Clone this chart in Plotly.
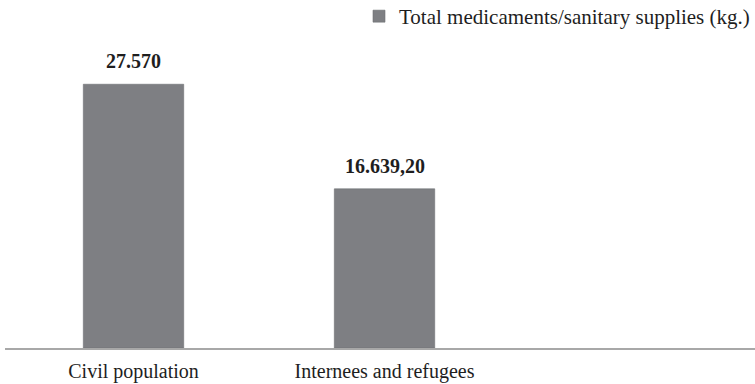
import plotly.graph_objects as go

# Data
categories = ["Civil population", "Internees and refugees"]
supplies_kg = [27570, 16639.2]
series_name = "Total medicaments/sanitary supplies (kg.)"

BAR_COLOR = "#7e7f83"
TEXT_COLOR = "#1e1e1e"
FONT = "Liberation Serif"


def fmt_eu(v):
    """European number format: '.' thousands separator, ',' decimals."""
    if float(v).is_integer():
        s = f"{int(v):,}"
        return s.replace(",", ".")
    s = f"{v:,.2f}"
    return s.replace(",", "X").replace(".", ",").replace("X", ".")


fig = go.Figure()
fig.add_trace(go.Bar(
    x=categories,
    y=supplies_kg,
    name=series_name,
    marker=dict(color=BAR_COLOR, line=dict(color="#6f7074", width=0.6)),
    showlegend=True,
))

# value labels above the bars
for cat, val in zip(categories, supplies_kg):
    fig.add_annotation(
        x=cat, y=val, text=fmt_eu(val),
        showarrow=False, yanchor="bottom", yshift=10,
        font=dict(family=FONT, size=20, color=TEXT_COLOR, weight="bold"),
    )

fig.update_layout(
    width=755, height=384,
    margin=dict(l=5, r=0, t=61, b=36, autoexpand=False),
    paper_bgcolor="white", plot_bgcolor="white",
    bargap=0.6,
    font=dict(family=FONT, size=20, color=TEXT_COLOR),
    legend=dict(
        orientation="h", x=1.0, xanchor="right", y=1.155, yanchor="middle",
        font=dict(family=FONT, size=21, color=TEXT_COLOR),
        bgcolor="rgba(0,0,0,0)", itemwidth=30,
    ),
    xaxis=dict(
        type="category", range=[-0.512, 2.476],
        showline=True, linecolor="#a8a8a8", linewidth=1.5,
        showgrid=False, zeroline=False, ticks="", ticklabelstandoff=4,
        tickfont=dict(family=FONT, size=20, color=TEXT_COLOR),
    ),
    yaxis=dict(
        range=[0, 30000], visible=False, showgrid=False, zeroline=False,
    ),
)

fig.write_html("out.html")
